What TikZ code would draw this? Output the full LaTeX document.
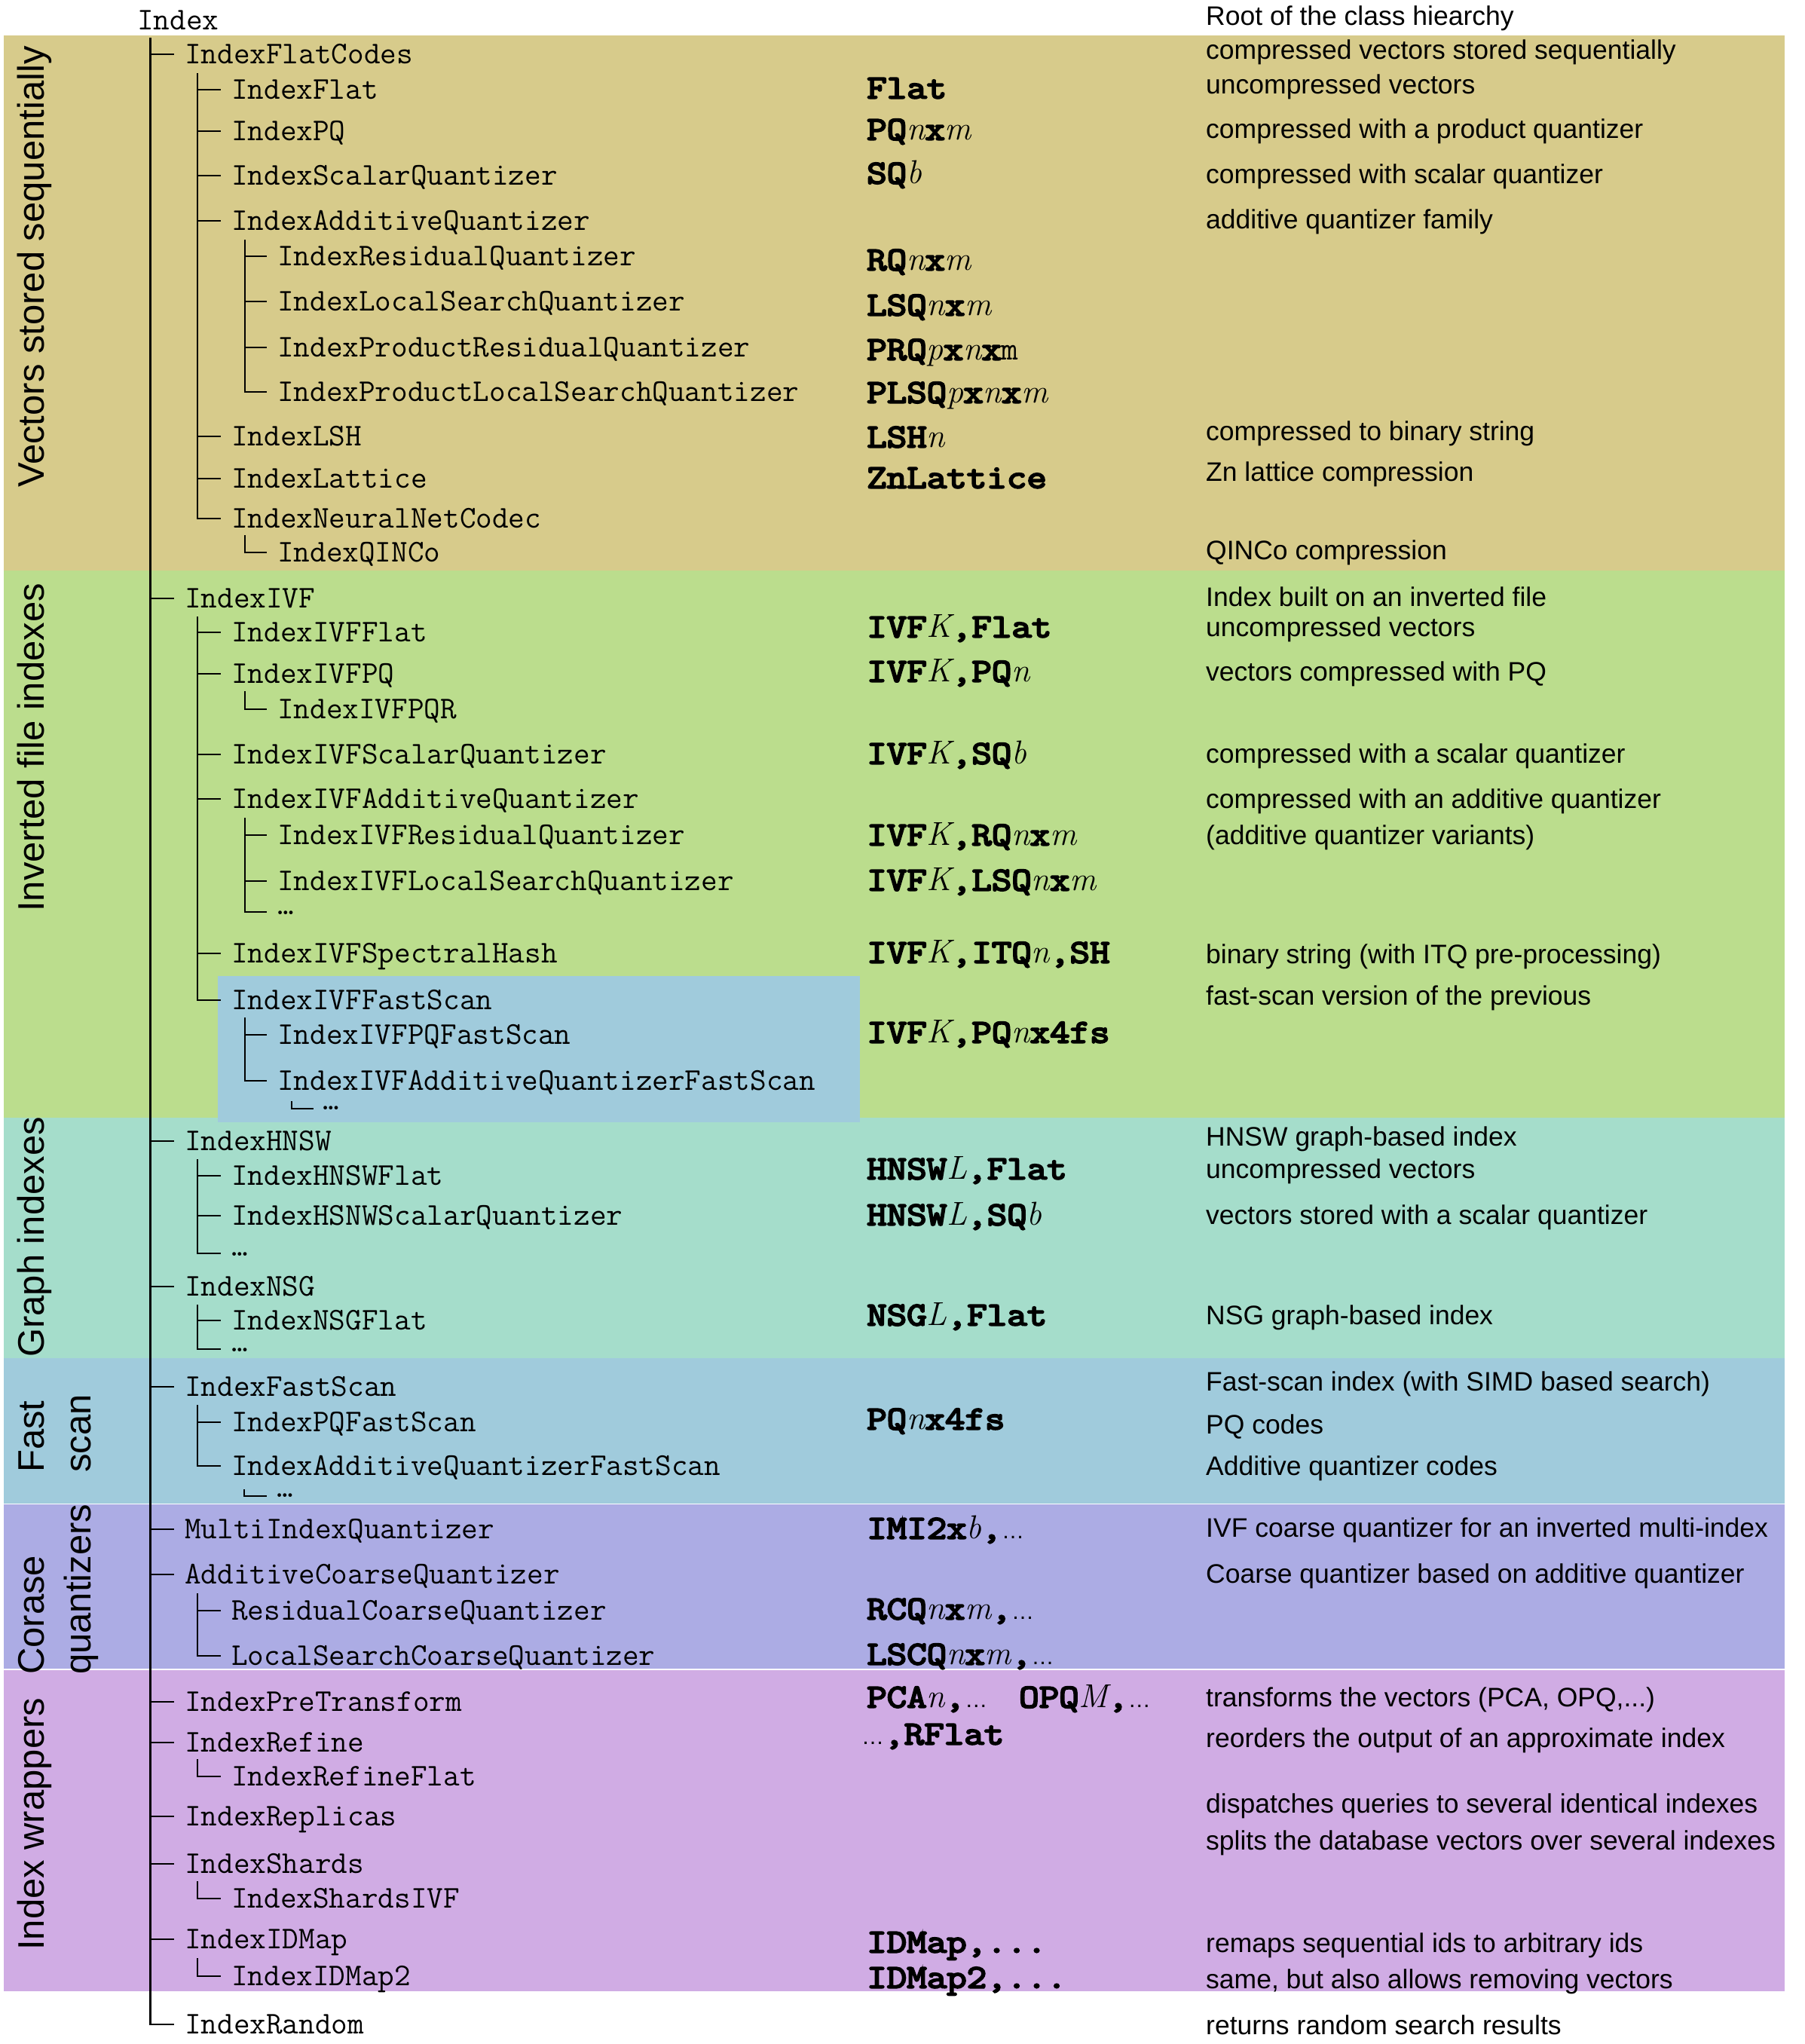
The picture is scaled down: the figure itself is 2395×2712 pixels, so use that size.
\documentclass[tikz,border=0pt]{standalone}
\usepackage{fontspec}
\setmainfont{Liberation Sans}
\newfontfamily\lmtt{Latin Modern Mono}
\newfontfamily\cour{Latin Modern Mono}[FakeStretch=1.17,FakeBold=5]
\newfontfamily\lmr{Latin Modern Roman}
\newcommand\iv[1]{{\lmr\mdseries\itshape #1}}
\newcommand\sdots{{\normalfont\fontsize{30}{30}\selectfont …}}
\definecolor{cVec}{RGB}{215,203,139}
\definecolor{cIvf}{RGB}{187,221,141}
\definecolor{cGraph}{RGB}{165,221,203}
\definecolor{cFast}{RGB}{160,203,220}
\definecolor{cCoarse}{RGB}{172,172,228}
\definecolor{cWrap}{RGB}{208,172,228}
\tikzset{
  cls/.style={inner sep=0pt, anchor=base west, font=\lmtt\fontsize{42}{42}\selectfont},
  fac/.style={inner sep=0pt, anchor=base west, font=\cour\fontsize{44}{44}\selectfont},
  dsc/.style={inner sep=0pt, anchor=base west, font=\fontsize{35.5}{35.5}\selectfont},
  grp/.style={inner sep=0pt, anchor=base west, rotate=90, font=\fontsize{49}{49}\selectfont},
  mline/.style={line width=3pt},
  tline/.style={line width=1.8pt},
  sline/.style={line width=1.3pt},
}
\newcommand\cls[4]{\node[cls] (#1) at (#2,#3+12.8) {#4};}
\newcommand\fac[4]{\node[fac] (#1) at (#2,#3+13.4) {#4};}
\newcommand\dsc[3]{\node[dsc] (#1) at (1600,#2+12.7) {#3};}
\newcommand\tk[3][tline]{\draw[#1] (#2) |- ([shift={(-14,-12.8)}]#3.base west);}
\newcommand\tkd[3][tline]{\draw[#1] (#2) |- ([shift={(-14,-3)}]#3.base west);}
\begin{document}
\begin{tikzpicture}[x=1pt,y=-1pt]
\useasboundingbox (0,0) rectangle (2395,2712);
% bands
\fill[cVec] (5,47) rectangle (2368,757);
\fill[cIvf] (5,757) rectangle (2368,1483);
\fill[cGraph] (5,1483) rectangle (2368,1802);
\fill[cFast] (289,1295) rectangle (1141,1489);
\fill[cFast] (5,1802) rectangle (2368,1995);
\fill[cCoarse] (5,1996) rectangle (2368,2214);
\fill[cWrap] (5,2216) rectangle (2368,2642);
% group labels
\node[grp] (gVec) at (58,647) {Vectors stored sequentially};
\node[grp] (gIvf) at (58,1210) {Inverted file indexes};
\node[grp] (gGraph) at (58,1801) {Graph indexes};
\node[grp] (gFast1) at (58,1954) {Fast};
\node[grp] (gFast2) at (120,1954) {scan};
\node[grp] (gCo1) at (58,2222) {Corase};
\node[grp] (gCo2) at (120,2222) {quantizers};
\node[grp] (gWrap) at (58,2588) {Index wrappers};
% class tree
\cls{Index}{182}{27}{Index}
\cls{IndexFlatCodes}{245}{72}{IndexFlatCodes}
\cls{IndexFlat}{307}{119}{IndexFlat}
\cls{IndexPQ}{307}{174}{IndexPQ}
\cls{IndexScalarQuantizer}{307}{233}{IndexScalarQuantizer}
\cls{IndexAdditiveQuantizer}{307}{293}{IndexAdditiveQuantizer}
\cls{IndexResidualQuantizer}{368}{340}{IndexResidualQuantizer}
\cls{IndexLocalSearchQuantizer}{368}{400}{IndexLocalSearchQuantizer}
\cls{IndexProductResidualQuantizer}{368}{461}{IndexProductResidualQuantizer}
\cls{IndexProductLocalSearchQuantizer}{368}{520}{IndexProductLocalSearchQuantizer}
\cls{IndexLSH}{307}{579}{IndexLSH}
\cls{IndexLattice}{307}{635}{IndexLattice}
\cls{IndexNeuralNetCodec}{307}{688}{IndexNeuralNetCodec}
\cls{IndexQINCo}{368}{733}{IndexQINCo}
\cls{IndexIVF}{245}{794}{IndexIVF}
\cls{IndexIVFFlat}{307}{839}{IndexIVFFlat}
\cls{IndexIVFPQ}{307}{894}{IndexIVFPQ}
\cls{IndexIVFPQR}{368}{941}{IndexIVFPQR}
\cls{IndexIVFScalarQuantizer}{307}{1001}{IndexIVFScalarQuantizer}
\cls{IndexIVFAdditiveQuantizer}{307}{1060}{IndexIVFAdditiveQuantizer}
\cls{IndexIVFResidualQuantizer}{368}{1108}{IndexIVFResidualQuantizer}
\cls{IndexIVFLocalSearchQuantizer}{368}{1169}{IndexIVFLocalSearchQuantizer}
\node[cls] (dIVFAQ) at (368,1213) {…};
\cls{IndexIVFSpectralHash}{307}{1265}{IndexIVFSpectralHash}
\cls{IndexIVFFastScan}{307}{1327}{IndexIVFFastScan}
\cls{IndexIVFPQFastScan}{368}{1373}{IndexIVFPQFastScan}
\cls{IndexIVFAdditiveQuantizerFastScan}{368}{1434}{IndexIVFAdditiveQuantizerFastScan}
\node[cls] (dIVFAQFS) at (428,1472) {…};
\cls{IndexHNSW}{245}{1514}{IndexHNSW}
\cls{IndexHNSWFlat}{307}{1560}{IndexHNSWFlat}
\cls{IndexHSNWScalarQuantizer}{307}{1613}{IndexHSNWScalarQuantizer}
\node[cls] (dHNSW) at (307,1666) {…};
\cls{IndexNSG}{245}{1707}{IndexNSG}
\cls{IndexNSGFlat}{307}{1752}{IndexNSGFlat}
\node[cls] (dNSG) at (307,1793) {…};
\cls{IndexFastScan}{245}{1840}{IndexFastScan}
\cls{IndexPQFastScan}{307}{1887}{IndexPQFastScan}
\cls{IndexAdditiveQuantizerFastScan}{307}{1945}{IndexAdditiveQuantizerFastScan}
\node[cls] (dAQFS) at (367,1986) {…};
\cls{MultiIndexQuantizer}{245}{2029}{MultiIndexQuantizer}
\cls{AdditiveCoarseQuantizer}{245}{2089}{AdditiveCoarseQuantizer}
\cls{ResidualCoarseQuantizer}{307}{2137}{ResidualCoarseQuantizer}
\cls{LocalSearchCoarseQuantizer}{307}{2197}{LocalSearchCoarseQuantizer}
\cls{IndexPreTransform}{245}{2258}{IndexPreTransform}
\cls{IndexRefine}{245}{2312}{IndexRefine}
\cls{IndexRefineFlat}{307}{2357}{IndexRefineFlat}
\cls{IndexReplicas}{245}{2410}{IndexReplicas}
\cls{IndexShards}{245}{2473}{IndexShards}
\cls{IndexShardsIVF}{307}{2519}{IndexShardsIVF}
\cls{IndexIDMap}{245}{2573}{IndexIDMap}
\cls{IndexIDMap2}{307}{2622}{IndexIDMap2}
\cls{IndexRandom}{245}{2686}{IndexRandom}
% tree connectors
\coordinate (vRoot) at (199,50);
\path ([shift={(-14,-12.8)}]IndexRandom.base west) coordinate (tRandom);
\draw[mline] (vRoot) -- (vRoot |- tRandom);
\foreach \c in {IndexFlatCodes,IndexIVF,IndexHNSW,IndexNSG,IndexFastScan,MultiIndexQuantizer,AdditiveCoarseQuantizer,IndexPreTransform,IndexRefine,IndexReplicas,IndexShards,IndexIDMap,IndexRandom}{\tk{vRoot}{\c}}
\coordinate (vFlatCodes) at (262,97);
\foreach \c in {IndexFlat,IndexPQ,IndexScalarQuantizer,IndexAdditiveQuantizer,IndexLSH,IndexLattice,IndexNeuralNetCodec}{\tk{vFlatCodes}{\c}}
\coordinate (vAQ) at (325,318);
\foreach \c in {IndexResidualQuantizer,IndexLocalSearchQuantizer,IndexProductResidualQuantizer,IndexProductLocalSearchQuantizer}{\tk{vAQ}{\c}}
\coordinate (vNNC) at (325,710);
\tk{vNNC}{IndexQINCo}
\coordinate (vIVF) at (262,818);
\foreach \c in {IndexIVFFlat,IndexIVFPQ,IndexIVFScalarQuantizer,IndexIVFAdditiveQuantizer,IndexIVFSpectralHash,IndexIVFFastScan}{\tk{vIVF}{\c}}
\coordinate (vIVFPQ) at (325,917);
\tk{vIVFPQ}{IndexIVFPQR}
\coordinate (vIVFAQ) at (325,1085);
\foreach \c in {IndexIVFResidualQuantizer,IndexIVFLocalSearchQuantizer}{\tk{vIVFAQ}{\c}}
\tkd{vIVFAQ}{dIVFAQ}
\coordinate (vIVFFS) at (325,1350);
\foreach \c in {IndexIVFPQFastScan,IndexIVFAdditiveQuantizerFastScan}{\tk{vIVFFS}{\c}}
\coordinate (vIVFAQFS) at (387,1461);
\draw[sline] (vIVFAQFS) |- ([shift={(-12,-1)}]dIVFAQFS.base west);
\coordinate (vHNSW) at (262,1538);
\foreach \c in {IndexHNSWFlat,IndexHSNWScalarQuantizer}{\tk{vHNSW}{\c}}
\tkd{vHNSW}{dHNSW}
\coordinate (vNSG) at (262,1731);
\tk{vNSG}{IndexNSGFlat}
\tkd{vNSG}{dNSG}
\coordinate (vFS) at (262,1864);
\foreach \c in {IndexPQFastScan,IndexAdditiveQuantizerFastScan}{\tk{vFS}{\c}}
\coordinate (vAQFS) at (324,1976);
\draw[sline] (vAQFS) |- ([shift={(-13,-1)}]dAQFS.base west);
\coordinate (vACQ) at (262,2114);
\foreach \c in {ResidualCoarseQuantizer,LocalSearchCoarseQuantizer}{\tk{vACQ}{\c}}
\coordinate (vRefine) at (262,2334);
\tk{vRefine}{IndexRefineFlat}
\coordinate (vShards) at (262,2496);
\tk{vShards}{IndexShardsIVF}
\coordinate (vIDMap) at (262,2598);
\tk{vIDMap}{IndexIDMap2}
% factory strings
\fac{fFlat}{1150}{117}{Flat}
\fac{fPQ}{1150}{172}{PQ\iv{n}x\iv{m}}
\fac{fSQ}{1150}{230}{SQ\iv{b}}
\fac{fRQ}{1150}{345}{RQ\iv{n}x\iv{m}}
\fac{fLSQ}{1150}{405}{LSQ\iv{n}x\iv{m}}
\fac{fPRQ}{1150}{464}{PRQ\iv{p}x\iv{n}x{\lmtt m}}
\fac{fPLSQ}{1150}{521}{PLSQ\iv{p}x\iv{n}x\iv{m}}
\fac{fLSH}{1150}{580}{LSH\iv{n}}
\fac{fZn}{1150}{634}{ZnLattice}
\fac{fIVFFlat}{1150}{832}{IVF\iv{K},Flat}
\fac{fIVFPQ}{1150}{891}{IVF\iv{K},PQ\iv{n}}
\fac{fIVFSQ}{1150}{1000}{IVF\iv{K},SQ\iv{b}}
\fac{fIVFRQ}{1150}{1108}{IVF\iv{K},RQ\iv{n}x\iv{m}}
\fac{fIVFLSQ}{1150}{1168}{IVF\iv{K},LSQ\iv{n}x\iv{m}}
\fac{fIVFSH}{1150}{1264}{IVF\iv{K},ITQ\iv{n},SH}
\fac{fIVFFS}{1150}{1370}{IVF\iv{K},PQ\iv{n}x4fs}
\fac{fHNSWFlat}{1150}{1551}{HNSW\iv{L},Flat}
\fac{fHNSWSQ}{1150}{1612}{HNSW\iv{L},SQ\iv{b}}
\fac{fNSG}{1150}{1745}{NSG\iv{L},Flat}
\fac{fPQFS}{1150}{1883}{PQ\iv{n}x4fs}
\fac{fIMI}{1150}{2028}{IMI2x\iv{b},\sdots}
\fac{fRCQ}{1150}{2135}{RCQ\iv{n}x\iv{m},\sdots}
\fac{fLSCQ}{1150}{2195}{LSCQ\iv{n}x\iv{m},\sdots}
\fac{fPCA}{1150}{2252}{PCA\iv{n},\sdots}
\fac{fOPQ}{1352}{2252}{OPQ\iv{M},\sdots}
\fac{fRFlat}{1143}{2301}{\sdots,RFlat}
\fac{fIDMap}{1150}{2577}{IDMap,...}
\fac{fIDMap2}{1150}{2624}{IDMap2,...}
% descriptions
\dsc{dRoot}{21}{Root of the class hiearchy}
\dsc{dFlatCodes}{66}{compressed vectors stored sequentially}
\dsc{dFlat}{112}{uncompressed vectors}
\dsc{dPQ}{171}{compressed with a product quantizer}
\dsc{dSQ}{231}{compressed with scalar quantizer}
\dsc{dAQ}{291}{additive quantizer family}
\dsc{dLSH}{572}{compressed to binary string}
\dsc{dLattice}{626}{Zn lattice compression}
\dsc{dQINCo}{730}{QINCo compression}
\dsc{dIVF}{792}{Index built on an inverted file}
\dsc{dIVFFlat}{832}{uncompressed vectors}
\dsc{dIVFPQ}{891}{vectors compressed with PQ}
\dsc{dIVFSQ}{1000}{compressed with a scalar quantizer}
\dsc{dIVFAQ2}{1060}{compressed with an additive quantizer}
\dsc{dIVFAQv}{1108}{(additive quantizer variants)}
\dsc{dIVFSH}{1266}{binary string (with ITQ pre-processing)}
\dsc{dIVFFS}{1321}{fast-scan version of the previous}
\dsc{dHNSW2}{1508}{HNSW graph-based index}
\dsc{dHNSWFlat}{1551}{uncompressed vectors}
\dsc{dHNSWSQ}{1612}{vectors stored with a scalar quantizer}
\dsc{dNSG2}{1745}{NSG graph-based index}
\dsc{dFS}{1833}{Fast-scan index (with SIMD based search)}
\dsc{dPQFS}{1890}{PQ codes}
\dsc{dAQFS2}{1945}{Additive quantizer codes}
\dsc{dMIQ}{2027}{IVF coarse quantizer for an inverted multi-index}
\dsc{dACQ}{2088}{Coarse quantizer based on additive quantizer}
\dsc{dPre}{2252}{transforms the vectors (PCA, OPQ,...)}
\dsc{dRefine}{2306}{reorders the output of an approximate index}
\dsc{dReplicas}{2393}{dispatches queries to several identical indexes}
\dsc{dShards}{2442}{splits the database vectors over several indexes}
\dsc{dIDMap}{2578}{remaps sequential ids to arbitrary ids}
\dsc{dIDMap2}{2626}{same, but also allows removing vectors}
\dsc{dRandom}{2687}{returns random search results}
\end{tikzpicture}
\end{document}
